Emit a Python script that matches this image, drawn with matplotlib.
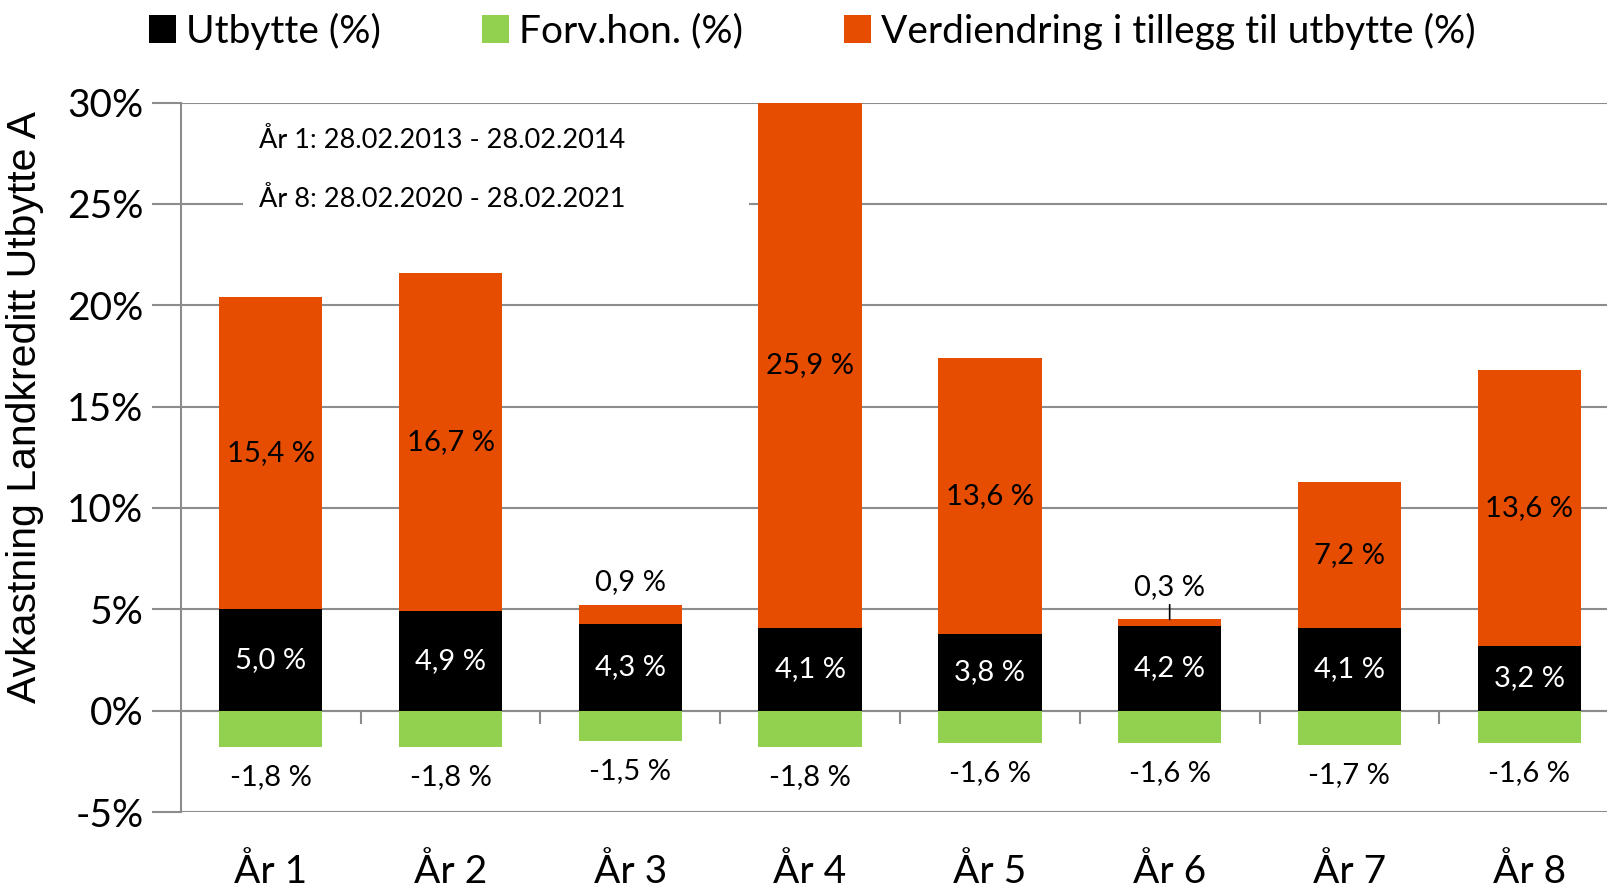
import matplotlib.pyplot as plt
from matplotlib.patches import Rectangle
from matplotlib.ticker import FixedLocator

# Data
years = ['År 1', 'År 2', 'År 3', 'År 4', 'År 5', 'År 6', 'År 7', 'År 8']
utbytte = [5.0, 4.9, 4.3, 4.1, 3.8, 4.2, 4.1, 3.2]
forv_hon = [-1.8, -1.8, -1.5, -1.8, -1.6, -1.6, -1.7, -1.6]
verdiendring = [15.4, 16.7, 0.9, 25.9, 13.6, 0.3, 7.2, 13.6]
period_notes = ['År 1: 28.02.2013 - 28.02.2014', 'År 8: 28.02.2020 - 28.02.2021']

c_black = '#000000'
c_green = '#92D050'
c_orange = '#E64D00'
c_grid = '#8C8C8C'

plt.rcParams['font.family'] = ['Lato', 'DejaVu Sans']

fig = plt.figure(figsize=(16.08, 8.89), dpi=100)
ax = fig.add_axes([0.1125, 0.0866, 0.8944, 0.798])

x = list(range(len(years)))
w = 0.575
ymax = 30

b1 = ax.bar(x, utbytte, w, color=c_black, zorder=3, label='Utbytte (%)')
b2 = ax.bar(x, forv_hon, w, color=c_green, zorder=3, label='Forv.hon. (%)')
b3 = ax.bar(x, verdiendring, w, bottom=utbytte, color=c_orange, zorder=3,
            label='Verdiendring i tillegg til utbytte (%)')

def fmt(v):
    return f'{v:.1f} %'.replace('.', ',')

# labels
for i in x:
    u, f, v = utbytte[i], forv_hon[i], verdiendring[i]
    ax.text(i, u / 2, fmt(u), color='white', ha='center', va='center',
            fontsize=21, zorder=5)
    ax.annotate(fmt(f), (i, f), xytext=(0, -21.5), textcoords='offset points',
                ha='center', va='center', fontsize=21, zorder=5)
    top = min(u + v, ymax)
    if v >= 2:
        ax.text(i, (u + top) / 2, fmt(v), color='black', ha='center',
                va='center', fontsize=21, zorder=5)
    elif v > 0.5:
        ax.annotate(fmt(v), (i, u + v), xytext=(0, 16.5),
                    textcoords='offset points', ha='center', va='center',
                    fontsize=21, zorder=5)
    else:
        ax.annotate(fmt(v), (i, u + v), xytext=(0, 23),
                    textcoords='offset points', ha='center', va='center',
                    fontsize=21, zorder=5,
                    arrowprops=dict(arrowstyle='-', color='black', lw=1.2,
                                    shrinkA=1, shrinkB=0))

ax.set_xlim(-0.5, len(years) - 0.5)
ax.set_ylim(-5, ymax)
ax.set_yticks(range(-5, 31, 5))
ax.set_yticklabels([f'{t}%' for t in range(-5, 31, 5)], fontsize=28)
ax.yaxis.grid(True, color=c_grid, lw=1.5)
ax.set_axisbelow(True)
ax.tick_params(axis='y', length=21, width=1.5, color=c_grid, pad=6)

ax.spines['top'].set_visible(False)
ax.spines['right'].set_visible(False)
ax.spines['left'].set_color(c_grid)
ax.spines['left'].set_linewidth(1.5)
ax.spines['bottom'].set_position(('data', 0))
ax.spines['bottom'].set_color(c_grid)
ax.spines['bottom'].set_linewidth(1.5)
ax.spines['bottom'].set_zorder(2)

ax.set_xticks(x)
ax.set_xticklabels(years, fontsize=28)
ax.xaxis.set_minor_locator(FixedLocator([i + 0.5 for i in x[:-1]]))
ax.tick_params(axis='x', which='major', length=0, pad=103)
ax.tick_params(axis='x', which='minor', length=9, width=1.5, color=c_grid)

ax.set_ylabel('Avkastning Landkreditt Utbytte A', fontsize=29.5,
              family='Liberation Sans')
ax.yaxis.set_label_coords(-0.0955, 0.571)

# period note box
ax.add_patch(Rectangle((0.043, 0.84), 0.352, 0.12, transform=ax.transAxes,
                       facecolor='white', edgecolor='none', zorder=2.2))
ax.text(0.054, 0.947, period_notes[0], transform=ax.transAxes, fontsize=19.5,
        va='center', ha='left', zorder=2.4)
ax.text(0.054, 0.864, period_notes[1], transform=ax.transAxes, fontsize=19.5,
        va='center', ha='left', zorder=2.4)

fig.legend(handles=[b1, b2, b3], loc='center', bbox_to_anchor=(0.505, 0.965),
           ncol=3, frameon=False, fontsize=28, handlelength=0.7,
           handleheight=0.7, handletextpad=0.25, columnspacing=2.6,
           borderaxespad=0)

fig.savefig('out.png', dpi=100)
